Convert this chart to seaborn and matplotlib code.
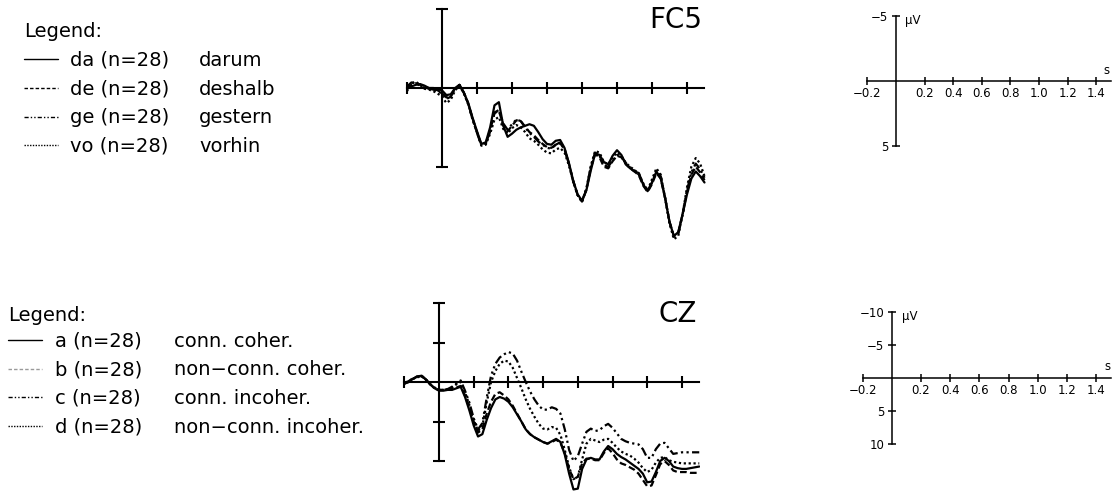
import numpy as np
import pandas as pd
import matplotlib
matplotlib.use("Agg")
import matplotlib.pyplot as plt
import seaborn as sns

# sample times (s), 25 ms steps from -0.2 to 1.5
t = np.round(np.arange(-0.2, 1.5001, 0.025), 3)

# FC5 grand averages (uV, negative plotted up)
fc5_da = [0.0, -0.1, -0.2, -0.25, -0.15, 0.0, 0.0, 0.05, 0.15, 0.45,
          0.4, 0.0, -0.2, 0.3, 0.95, 1.9, 2.75, 3.55, 3.45, 2.5,
          1.1, 0.9, 2.4, 3.1, 2.9, 2.65, 2.5, 2.4, 2.3, 2.4,
          2.8, 3.25, 3.55, 3.6, 3.35, 3.3, 3.8, 4.75, 5.9, 6.75,
          7.15, 6.5, 5.25, 4.15, 4.25, 4.7, 4.85, 4.3, 3.95, 4.25,
          4.85, 5.1, 5.3, 5.4, 6.15, 6.55, 6.0, 5.3, 5.75, 7.0,
          8.5, 9.4, 9.15, 8.0, 6.75, 5.75, 5.3, 5.6, 6.0]
fc5_de = [0.05, -0.2, -0.3, -0.2, -0.05, 0.0, 0.05, 0.15, 0.3, 0.6,
          0.5, 0.05, -0.2, 0.3, 1.0, 1.95, 2.8, 3.6, 3.5, 2.7,
          1.6, 1.45, 2.35, 2.75, 2.4, 2.05, 2.1, 2.45, 2.8, 3.0,
          3.3, 3.55, 3.75, 3.8, 3.6, 3.5, 3.9, 4.8, 5.9, 6.8,
          7.2, 6.45, 5.1, 4.2, 4.4, 5.0, 5.1, 4.65, 4.3, 4.4,
          4.8, 5.1, 5.3, 5.55, 6.2, 6.6, 6.1, 5.4, 5.75, 7.0,
          8.5, 9.4, 9.2, 8.0, 6.6, 5.5, 5.0, 5.35, 5.85]
fc5_ge = [-0.1, -0.35, -0.3, -0.15, 0.0, 0.05, 0.1, 0.2, 0.35, 0.7,
          0.55, 0.05, -0.2, 0.3, 1.0, 2.0, 2.85, 3.65, 3.55, 2.75,
          1.55, 1.4, 2.25, 2.65, 2.3, 2.0, 2.1, 2.5, 2.85, 3.1,
          3.4, 3.6, 3.8, 3.85, 3.6, 3.45, 3.85, 4.8, 5.95, 6.8,
          7.2, 6.4, 5.05, 4.1, 4.3, 4.9, 5.0, 4.6, 4.25, 4.35,
          4.75, 5.05, 5.25, 5.5, 6.1, 6.55, 6.0, 5.25, 5.6, 6.95,
          8.5, 9.45, 9.25, 8.05, 6.5, 5.35, 4.8, 5.15, 5.7]
fc5_vo = [0.2, -0.3, -0.4, -0.2, 0.05, 0.1, 0.2, 0.35, 0.55, 0.95,
          0.75, 0.15, -0.15, 0.35, 1.05, 2.0, 2.85, 3.65, 3.6, 2.9,
          2.0, 1.85, 2.6, 2.9, 2.55, 2.35, 2.5, 2.8, 3.2, 3.35,
          3.6, 3.9, 4.1, 4.15, 3.9, 3.8, 4.1, 4.9, 5.95, 6.8,
          7.25, 6.4, 4.95, 4.0, 4.1, 4.7, 4.85, 4.4, 4.1, 4.3,
          4.75, 5.0, 5.2, 5.45, 6.05, 6.5, 5.8, 5.1, 5.5, 7.0,
          8.6, 9.6, 9.4, 8.0, 6.3, 5.0, 4.45, 4.8, 5.6]

# CZ grand averages (uV)
cz_a = [0.2, 0.0, -0.4, -0.7, -0.8, -0.3, 0.3, 0.8, 1.1, 1.1,
        1.0, 1.0, 0.8, 0.6, 1.9, 3.6, 5.5, 6.9, 6.6, 4.8,
        3.3, 2.2, 1.9, 2.1, 2.5, 3.2, 4.1, 5.0, 6.0, 6.6,
        7.0, 7.3, 7.6, 7.8, 7.5, 7.2, 7.6, 9.2, 11.6, 13.6,
        13.5, 11.0, 9.8, 9.6, 9.8, 9.8, 8.8, 8.1, 8.5, 9.1,
        9.5, 9.8, 10.2, 10.6, 11.0, 11.6, 12.7, 12.6, 11.4, 10.0,
        9.6, 10.0, 10.7, 10.9, 11.0, 11.0, 10.9, 10.8, 10.7]
cz_b = [0.2, 0.0, -0.4, -0.7, -0.8, -0.3, 0.3, 0.8, 1.0, 1.0,
        0.9, 0.9, 0.7, 0.5, 1.7, 3.3, 5.0, 6.4, 6.0, 4.0,
        2.5, 1.5, 1.3, 1.7, 2.2, 3.0, 4.0, 5.0, 6.0, 6.6,
        7.0, 7.3, 7.6, 7.8, 7.6, 7.3, 7.7, 9.0, 11.0, 12.3,
        12.0, 10.3, 9.7, 9.7, 9.9, 9.9, 9.0, 8.4, 9.0, 9.8,
        10.3, 10.5, 10.8, 11.1, 11.6, 12.4, 13.2, 13.1, 11.8, 10.4,
        10.0, 10.5, 11.2, 11.4, 11.4, 11.4, 11.5, 11.5, 11.5]
cz_c = [0.1, -0.1, -0.5, -0.7, -0.7, -0.3, 0.3, 0.7, 1.0, 1.0,
        0.9, 0.6, 0.2, -0.2, 1.1, 2.6, 4.6, 6.0, 5.2, 2.0,
        -0.8, -2.3, -3.1, -3.5, -3.8, -3.6, -2.7, -1.3, 0.0, 1.2,
        2.2, 3.0, 3.5, 3.5, 3.2, 3.4, 4.0, 6.0, 8.6, 10.0,
        9.4, 7.8, 6.3, 5.9, 6.2, 6.1, 5.6, 5.3, 5.8, 6.5,
        7.2, 7.5, 7.7, 7.8, 7.9, 8.5, 9.6, 9.6, 8.5, 7.8,
        7.7, 8.4, 9.1, 9.0, 8.9, 8.9, 8.9, 8.9, 8.9]
cz_d = [0.2, 0.0, -0.4, -0.6, -0.7, -0.3, 0.3, 0.8, 1.0, 1.0,
        0.9, 0.7, 0.3, 0.0, 1.3, 2.9, 4.8, 6.2, 5.6, 2.6,
        0.0, -1.4, -2.3, -2.7, -2.6, -1.8, -0.5, 0.8, 2.2, 3.4,
        4.4, 5.3, 5.9, 6.0, 5.7, 5.8, 6.7, 8.6, 10.8, 12.3,
        12.0, 9.8, 7.8, 7.2, 7.4, 7.6, 7.3, 7.2, 7.7, 8.3,
        8.8, 9.1, 9.3, 9.7, 10.2, 10.9, 11.4, 11.1, 10.2, 9.6,
        9.5, 9.9, 10.1, 10.2, 10.3, 10.3, 10.3, 10.3, 10.3]

fc5_conds = ["da", "de", "ge", "vo"]
fc5_names = ["darum", "deshalb", "gestern", "vorhin"]
cz_conds = ["a", "b", "c", "d"]
cz_names = ["conn. coher.", "non\u2212conn. coher.", "conn. incoher.", "non\u2212conn. incoher."]
n_subj = 28

scale_xticks = [-0.2, 0.2, 0.4, 0.6, 0.8, 1.0, 1.2, 1.4]
scale_xlabels = ["\u22120.2", "0.2", "0.4", "0.6", "0.8", "1.0", "1.2", "1.4"]

dash_styles = ["", (3, 1.5), (4, 1.5, 1, 1.5, 1, 1.5), (1, 1.2)]

sns.set_style("white")
plt.rcParams["font.family"] = ["DejaVu Sans"]
plt.rcParams["text.color"] = "black"

W, H = 1112, 493
fig = plt.figure(figsize=(W / 100, H / 100), dpi=100)


def box(x0, y0, x1, y1):
    # pixel box -> figure fraction rect
    return [x0 / W, 1 - y1 / H, (x1 - x0) / W, (y1 - y0) / H]


def style_axes(ax, ymax, yticks, lw, ticklen, labels=None, ylabels=None, fs=8.5):
    for s in ["top", "right"]:
        ax.spines[s].set_visible(False)
    for s in ["left", "bottom"]:
        ax.spines[s].set_position(("data", 0))
        ax.spines[s].set_color("black")
        ax.spines[s].set_linewidth(lw)
    ax.spines["left"].set_bounds(-ymax, ymax)
    ax.spines["bottom"].set_bounds(-0.2, 1.5)
    ax.set_xticks(scale_xticks)
    ax.set_yticks(yticks)
    ax.tick_params(bottom=True, left=True, direction="inout", length=ticklen,
                   width=lw, color="black", labelsize=fs, labelcolor="black")
    if labels is None:
        ax.tick_params(labelbottom=False, labelleft=False)
    else:
        ax.set_xticklabels(labels)
        ax.set_yticklabels(ylabels)
        ax.tick_params(axis="x", pad=1.5)
        ax.tick_params(axis="y", pad=2.5)
    ax.set_xlabel("")
    ax.set_ylabel("")
    ax.patch.set_alpha(0)


# overlay in pixel coordinates for the legends
lax = fig.add_axes([0, 0, 1, 1])
lax.set_xlim(0, W)
lax.set_ylim(H, 0)
lax.axis("off")

legend_ls = [("black", "-"), ("black", (0, (2.5, 1.5))),
             ("black", (0, (3, 1.5, 1, 1.5, 1, 1.5))), ("black", (0, (1, 1)))]
cz_legend_ls = [("black", "-"), ("#9a9a9a", (0, (2.5, 1.5))),
                ("black", (0, (3, 1.5, 1, 1.5, 1, 1.5))), ("black", (0, (1, 1)))]

lax.text(24, 36.7, "Legend:", fontsize=14, va="baseline")
for i, (c, n) in enumerate(zip(fc5_conds, fc5_names)):
    y = 59.3 + 28.7 * i
    col, ls = legend_ls[i]
    lax.plot([24, 58], [y, y], color=col, ls=ls, lw=1.0)
    lax.text(70, y + 6.6, f"{c} (n={n_subj})", fontsize=14, va="baseline")
    lax.text(199, y + 6.6, n, fontsize=14, va="baseline")

lax.text(8, 320.7, "Legend:", fontsize=14, va="baseline")
for i, (c, n) in enumerate(zip(cz_conds, cz_names)):
    y = 340 + 28.7 * i
    col, ls = cz_legend_ls[i]
    lax.plot([8, 42], [y, y], color=col, ls=ls, lw=1.0)
    lax.text(55, y + 6.6, f"{c} (n={n_subj})", fontsize=14, va="baseline")
    lax.text(174, y + 6.6, n, fontsize=14, va="baseline")

# FC5 panel
df_fc5 = pd.DataFrame({"t": t, "da": fc5_da, "de": fc5_de, "ge": fc5_ge, "vo": fc5_vo})
df_fc5 = df_fc5.melt(id_vars="t", var_name="cond", value_name="uV")
ax1 = fig.add_axes(box(405, 0, 707, 245))
sns.lineplot(data=df_fc5, x="t", y="uV", style="cond", style_order=fc5_conds,
             dashes=dict(zip(fc5_conds, dash_styles)), color="black",
             linewidth=1.6, estimator=None, legend=False, ax=ax1)
ax1.set_xlim((405 - 442) / 175, (707 - 442) / 175)
ax1.set_ylim((245 - 88) / 15.75, (0 - 88) / 15.75)
style_axes(ax1, 5, [-5, 5], 1.5, 8)
ax1.text(1.49, -4.3, "FC5", fontsize=20, ha="right", va="center")

# CZ panel
df_cz = pd.DataFrame({"t": t, "a": cz_a, "b": cz_b, "c": cz_c, "d": cz_d})
df_cz = df_cz.melt(id_vars="t", var_name="cond", value_name="uV")
ax2 = fig.add_axes(box(403, 290, 700, 493))
sns.lineplot(data=df_cz, x="t", y="uV", style="cond", style_order=cz_conds,
             dashes=dict(zip(cz_conds, dash_styles)), color="black",
             linewidth=1.6, estimator=None, legend=False, ax=ax2)
ax2.set_xlim((403 - 439) / 173.5, (700 - 439) / 173.5)
ax2.set_ylim((493 - 382) / 7.9, (290 - 382) / 7.9)
style_axes(ax2, 10, [-10, -5, 5, 10], 1.5, 8)
ax2.text(1.485, -8.6, "CZ", fontsize=20, ha="right", va="center")

# calibration axes
ax3 = fig.add_axes(box(860, 0, 1112, 160))
ax3.set_xlim((860 - 896) / 143, (1112 - 896) / 143)
ax3.set_ylim((160 - 81) / 13, (0 - 81) / 13)
style_axes(ax3, 5, [-5, 5], 1.1, 5.8, scale_xlabels, ["\u22125", "5"])
ax3.text(0.063, -4.64, "\u03bcV", fontsize=8.5, ha="left", va="center")
ax3.text(1.473, -0.8, "s", fontsize=8.5, ha="center", va="center")

ax4 = fig.add_axes(box(855, 290, 1112, 470))
ax4.set_xlim((855 - 891.7) / 146, (1112 - 891.7) / 146)
ax4.set_ylim((470 - 377.7) / 6.6, (290 - 377.7) / 6.6)
style_axes(ax4, 10, [-10, -5, 5, 10], 1.1, 5.8, scale_xlabels,
           ["\u221210", "\u22125", "5", "10"])
ax4.text(0.07, -9.24, "\u03bcV", fontsize=8.5, ha="left", va="center")
ax4.text(1.475, -1.77, "s", fontsize=8.5, ha="center", va="center")

fig.savefig("out.png", dpi=100)
